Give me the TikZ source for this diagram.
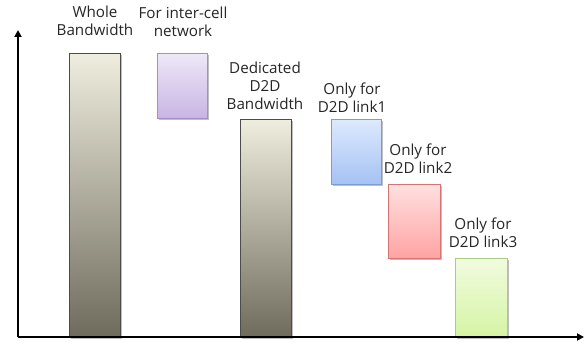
\documentclass[tikz,border=0pt]{standalone}
\usepackage{fontspec}
\setmainfont{Open Sans}
\usetikzlibrary{shadows,arrows.meta}
\definecolor{bartop}{HTML}{EFEDDD}
\definecolor{barbot}{HTML}{6E6B5C}
\definecolor{purtop}{HTML}{EEE8F7}
\definecolor{purbot}{HTML}{C8B4E4}
\definecolor{purdraw}{HTML}{A48EC6}
\definecolor{blutop}{HTML}{DDE9FD}
\definecolor{blubot}{HTML}{A4C2F4}
\definecolor{bludraw}{HTML}{7B9DD2}
\definecolor{redtop}{HTML}{FFE0E0}
\definecolor{redbot}{HTML}{FFA3A3}
\definecolor{reddraw}{HTML}{D67474}
\definecolor{grntop}{HTML}{F1FBDF}
\definecolor{grnbot}{HTML}{D5F4A4}
\definecolor{grndraw}{HTML}{AACB82}
\tikzset{
  box/.style={rectangle, inner sep=0pt, anchor=north west, line width=0.9pt,
    drop shadow={shadow xshift=1.2pt, shadow yshift=-1.2pt, opacity=0.25, fill=black}},
  barbox/.style={box, draw=black!70, top color=bartop, bottom color=barbot},
  lbl/.style={align=center, font=\fontsize{15.2}{18}\selectfont, text=black!85, inner sep=0pt},
  axis/.style={line width=2.2pt, -{Triangle[length=7pt,width=7pt]}}
}
\begin{document}
\begin{tikzpicture}[x=1pt,y=-1pt]
\useasboundingbox (0,0) rectangle (585,347);
\coordinate (o) at (18,337);
\coordinate (ytip) at (18,30);
\coordinate (xtip) at (584,337);
% boxes
\node[barbox, minimum width=51pt, minimum height=284pt] (whole) at (69,53) {};
\node[box, draw=purdraw, top color=purtop, bottom color=purbot, minimum width=50pt, minimum height=65pt] (inter) at (157,53) {};
\node[barbox, minimum width=51pt, minimum height=218pt] (ded) at (240,119) {};
\node[box, draw=bludraw, top color=blutop, bottom color=blubot, minimum width=50pt, minimum height=65pt] (l1) at (331,119) {};
\node[box, draw=reddraw, top color=redtop, bottom color=redbot, minimum width=52pt, minimum height=74pt] (l2) at (388,184) {};
\node[box, draw=grndraw, top color=grntop, bottom color=grnbot, minimum width=52pt, minimum height=79pt] (l3) at (455,258) {};
% axes
\draw[axis] (o) -- (ytip);
\draw[axis] (o) -- (xtip);
% labels
\node[lbl] (twhole) at (95,21) {Whole\\Bandwidth};
\node[lbl] (tinter) at (183,22) {For inter-cell\\network};
\node[lbl] (tded) at (265,86) {Dedicated\\D2D\\Bandwidth};
\node[lbl] (tl1) at (352,97.5) {Only for\\D2D link1};
\node[lbl] (tl2) at (418,159) {Only for\\D2D link2};
\node[lbl] (tl3) at (483,232.5) {Only for\\D2D link3};
\end{tikzpicture}
\end{document}
